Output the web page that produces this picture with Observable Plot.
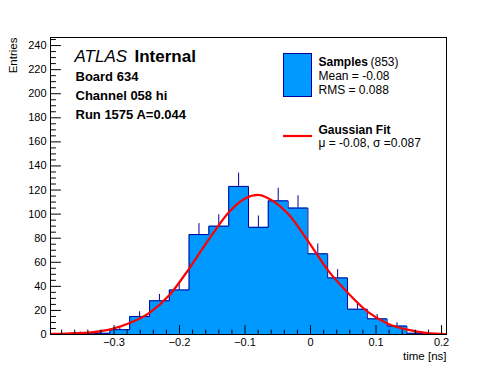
<!DOCTYPE html>
<html>
<head>
<meta charset="utf-8">
<script src="https://cdn.jsdelivr.net/npm/d3@7"></script>
<script src="https://cdn.jsdelivr.net/npm/@observablehq/plot@0.6"></script>
<style>
  html, body { margin: 0; padding: 0; background: white; }
  svg { display: block; }
</style>
</head>
<body>
<div id="chart"></div>
<script>
// Histogram bin edges (ns) and counts
const binEdges = [-0.397, -0.3668, -0.3365, -0.3063, -0.2761, -0.2458, -0.2156, -0.1854, -0.1552, -0.1249,
                  -0.0947, -0.0645, -0.0342, -0.0040, 0.0262, 0.0565, 0.0867, 0.1169, 0.1471, 0.1774, 0.2076];
const binCounts = [0, 1, 1, 4, 15, 28, 37, 83, 90, 123, 89, 111, 105, 67, 47, 21, 13, 7, 1, 0];

// Gaussian fit curve
const fitX = [-0.396, -0.365, -0.335, -0.304, -0.276, -0.246, -0.215, -0.185, -0.154, -0.124, -0.100, -0.080,
              -0.064, -0.034, -0.003, 0.027, 0.058, 0.088, 0.118, 0.148, 0.179, 0.206];
const fitY = [0.5, 1.0, 1.8, 4.5, 9.5, 18, 33, 55, 80, 102, 113, 116,
              113, 100, 77, 53, 34, 18.5, 9, 4, 1.2, 0.4];

const xTicks = [-0.3, -0.2, -0.1, 0, 0.1, 0.2];
const yTicks = [0, 20, 40, 60, 80, 100, 120, 140, 160, 180, 200, 220, 240];

const annotLines = ["Board 634", "Channel 058 hi", "Run 1575 A=0.044"];
const legendTexts = {
  samples: "Samples", count: "(853)", mean: "Mean = -0.08", rms: "RMS = 0.088",
  fit: "Gaussian Fit", params: "\u03bc = -0.08, \u03c3 =0.087"
};

const xDomain = [-0.397, 0.2076];
const yDomain = [0, 246.7];

const bins = binCounts.map((c, i) => ({lo: binEdges[i], hi: binEdges[i + 1], mid: (binEdges[i] + binEdges[i + 1]) / 2, n: c}));
const steps = binCounts.map((c, i) => ({x: binEdges[i], y: c}));
steps.push({x: binEdges[binEdges.length - 1], y: binCounts[binCounts.length - 1]});
const fit = fitX.map((x, i) => ({x, y: fitY[i]}));

const xMinor = d3.range(-0.38, 0.2001, 0.02).filter(v => Math.abs(v / 0.1 - Math.round(v / 0.1)) > 0.01);
const yMinor = d3.range(0, 246, 5).filter(v => v % 20 !== 0);

const FILL = "#0099ff", NAVY = "#000099", RED = "#ff0000";
const FONT = "'Liberation Sans', Arial, Helvetica, sans-serif";

// plain tick shape (no arrowhead)
const tickShape = {draw(context, l) { context.moveTo(0, 0); context.lineTo(0, -l); }};

const legendSwatches = () => {
  const g = d3.create("svg:g");
  g.append("rect").attr("x", 283.5).attr("y", 53.5).attr("width", 28).attr("height", 43)
    .attr("fill", FILL).attr("stroke", NAVY).attr("stroke-width", 1);
  g.append("line").attr("x1", 283).attr("x2", 312).attr("y1", 136).attr("y2", 136)
    .attr("stroke", RED).attr("stroke-width", 2.2);
  return g.node();
};

const txt = (text, dx, baseline, size, weight = "normal", style = "normal") =>
  Plot.text([text], {
    frameAnchor: "top-left", dx, dy: baseline - 37 - 0.32 * size,
    text: d => d, textAnchor: "start", lineAnchor: "middle",
    fontSize: size, fontWeight: weight, fontStyle: style, fill: "black"
  });

const tickOpts = {anchor: "start", shape: tickShape, stroke: "black", strokeWidth: 1};

const chart = Plot.plot({
  width: 496,
  height: 372,
  marginLeft: 50,
  marginRight: 50,
  marginTop: 37,
  marginBottom: 38,
  style: {fontFamily: FONT, fontSize: "11px", background: "white", color: "black"},
  x: {domain: xDomain, axis: null},
  y: {domain: yDomain, axis: null},
  marks: [
    Plot.areaY(steps, {x: "x", y: "y", curve: "step-after", fill: FILL}),
    Plot.line(steps, {x: "x", y: "y", curve: "step-after", stroke: NAVY, strokeWidth: 1}),
    Plot.ruleX(bins.filter(d => d.n > 0), {x: "mid", y1: "n", y2: d => d.n + Math.sqrt(d.n), stroke: NAVY, strokeWidth: 1}),
    Plot.line(fit, {x: "x", y: "y", curve: "monotone-x", stroke: RED, strokeWidth: 2.2}),
    Plot.frame({stroke: "black", strokeWidth: 1}),
    // ticks pointing inward
    Plot.vector(yTicks, {y: d => d, frameAnchor: "left", rotate: 90, length: 10, ...tickOpts}),
    Plot.vector(yMinor, {y: d => d, frameAnchor: "left", rotate: 90, length: 5, ...tickOpts}),
    Plot.vector(xTicks, {x: d => d, frameAnchor: "bottom", rotate: 0, length: 9, ...tickOpts}),
    Plot.vector(xMinor, {x: d => d, frameAnchor: "bottom", rotate: 0, length: 4.5, ...tickOpts}),
    Plot.axisY({ticks: yTicks, tickSize: 0, tickPadding: 4, label: null, tickFormat: d3.format("d"), fontSize: 11}),
    Plot.axisX({ticks: xTicks, tickSize: 0, tickPadding: 4, label: null, tickFormat: d3.format("~g"), fontSize: 11}),
    Plot.text(["Entries"], {frameAnchor: "top-left", dx: -37, dy: 0, rotate: -90, textAnchor: "end", lineAnchor: "middle", text: d => d, fontSize: 11.5}),
    Plot.text(["time [ns]"], {frameAnchor: "bottom-right", dx: 0, dy: 21.5, textAnchor: "end", lineAnchor: "middle", text: d => d, fontSize: 11.5}),
    // ATLAS label block
    txt("ATLAS", 24, 61.5, 17, "normal", "italic"),
    txt("Internal", 84, 61.5, 17, "bold"),
    txt(annotLines[0], 25, 80.5, 13, "bold"),
    txt(annotLines[1], 25, 99.5, 13, "bold"),
    txt(annotLines[2], 25, 118.5, 13, "bold"),
    // legend
    legendSwatches,
    txt(legendTexts.samples, 268, 65.5, 12, "bold"),
    txt(legendTexts.count, 320, 65.5, 12),
    txt(legendTexts.mean, 268, 79.5, 12),
    txt(legendTexts.rms, 268, 93.5, 12),
    txt(legendTexts.fit, 268, 133, 12, "bold"),
    txt(legendTexts.params, 268, 146, 12)
  ]
});
document.getElementById("chart").appendChild(chart);
</script>
</body>
</html>
